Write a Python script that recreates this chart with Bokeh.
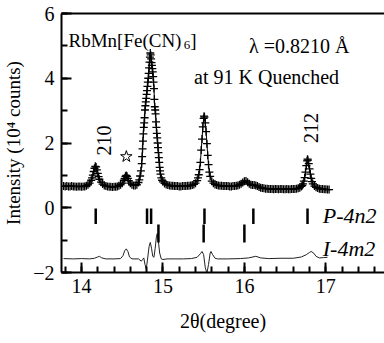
from math import pi
from bokeh.plotting import figure
from bokeh.models import Label, LinearAxis, SingleIntervalTicker, FixedTicker, Range1d
from bokeh.embed import file_html
from bokeh.resources import INLINE

# ---------------- data ----------------
obs_2theta = [
    13.78, 13.80, 13.82, 13.84, 13.86, 13.88, 13.90, 13.92, 13.94, 13.96, 13.98, 14.00, 14.02, 14.04, 14.06,
    14.08, 14.10, 14.12, 14.13, 14.14, 14.15, 14.16, 14.17, 14.18, 14.19, 14.20, 14.21, 14.22, 14.24, 14.26, 14.28, 14.30,
    14.32, 14.34, 14.36, 14.38, 14.40, 14.42, 14.44, 14.46, 14.48, 14.50,
    14.52, 14.53, 14.54, 14.55, 14.56, 14.57, 14.58, 14.60, 14.62, 14.64, 14.66, 14.68, 14.70,
    14.71, 14.72, 14.73, 14.74, 14.745, 14.75, 14.755, 14.76, 14.765, 14.77, 14.775, 14.78, 14.785, 14.79, 14.795,
    14.80, 14.805, 14.81, 14.815, 14.82, 14.825, 14.83, 14.835, 14.84, 14.845,
    14.85, 14.855, 14.86, 14.865, 14.87, 14.875, 14.88, 14.885, 14.89, 14.895, 14.90, 14.905, 14.91, 14.915,
    14.92, 14.925, 14.93, 14.935, 14.94, 14.945, 14.95, 14.955, 14.96, 14.965, 14.97, 14.98, 14.99, 15.00,
    15.02, 15.04, 15.06, 15.08, 15.10, 15.12, 15.14, 15.16, 15.18, 15.20, 15.22, 15.24, 15.26, 15.28, 15.30,
    15.32, 15.34, 15.36, 15.38, 15.40,
    15.42, 15.43, 15.44, 15.45, 15.46, 15.47, 15.48, 15.49, 15.50, 15.505, 15.51, 15.52, 15.53, 15.54, 15.55,
    15.56, 15.57, 15.58,
    15.60, 15.62, 15.64, 15.66, 15.68, 15.70, 15.72, 15.74, 15.76, 15.78, 15.80, 15.82, 15.84, 15.86, 15.88,
    15.90, 15.92, 15.94, 15.96, 15.98,
    16.00, 16.02, 16.04, 16.06, 16.08, 16.10, 16.12, 16.14, 16.16, 16.18, 16.20, 16.22, 16.24, 16.26, 16.28, 16.30,
    16.32, 16.34, 16.36, 16.38, 16.40, 16.42, 16.44, 16.46, 16.48, 16.50, 16.52, 16.54, 16.56, 16.58, 16.60, 16.62,
    16.64, 16.66, 16.68, 16.70, 16.71, 16.72, 16.73, 16.74, 16.75, 16.76, 16.77, 16.775, 16.78, 16.79, 16.80,
    16.81, 16.82, 16.83, 16.84, 16.86, 16.88,
    16.90, 16.92, 16.94, 16.96, 16.98, 17.00, 17.02, 17.04,
]
obs_intensity = [
    0.67, 0.66, 0.67, 0.66, 0.66, 0.67, 0.66, 0.66, 0.65, 0.66, 0.66, 0.65, 0.66, 0.66, 0.68,
    0.71, 0.76, 0.85, 0.92, 1.01, 1.12, 1.22, 1.28, 1.26, 1.17, 1.06, 0.96, 0.88, 0.79, 0.73, 0.69, 0.67,
    0.66, 0.65, 0.65, 0.64, 0.65, 0.65, 0.66, 0.68, 0.71, 0.76,
    0.85, 0.91, 0.97, 1.00, 0.97, 0.91, 0.84, 0.76, 0.71, 0.69, 0.69, 0.71, 0.78,
    0.86, 0.98, 1.14, 1.36, 1.58, 1.82, 2.06, 2.28, 2.48, 2.62, 2.78, 3.02, 3.15, 3.27, 3.38,
    3.50, 3.62, 3.75, 3.88, 4.00, 4.15, 4.32, 4.50, 4.65, 4.78,
    4.72, 4.60, 4.48, 4.40, 4.30, 4.20, 4.05, 3.88, 3.68, 3.35, 3.12, 3.02, 2.90, 2.65,
    2.48, 2.30, 2.16, 2.00, 1.86, 1.70, 1.55, 1.40, 1.25, 1.14, 1.04, 0.92, 0.85, 0.80,
    0.75, 0.72, 0.70, 0.69, 0.68, 0.68, 0.67, 0.67, 0.67, 0.66, 0.66, 0.67, 0.67, 0.67, 0.68,
    0.68, 0.69, 0.70, 0.72, 0.76,
    0.84, 0.92, 1.02, 1.18, 1.40, 1.78, 2.12, 2.50, 2.76, 2.83, 2.80, 2.62, 2.35, 1.98, 1.62,
    1.33, 1.10, 0.97,
    0.82, 0.76, 0.72, 0.70, 0.69, 0.68, 0.68, 0.67, 0.67, 0.67, 0.67, 0.66, 0.66, 0.67, 0.67,
    0.68, 0.69, 0.71, 0.74, 0.78,
    0.82, 0.83, 0.79, 0.74, 0.71, 0.70, 0.70, 0.69, 0.67, 0.64, 0.62, 0.61, 0.60, 0.59, 0.59, 0.58,
    0.58, 0.58, 0.57, 0.58, 0.58, 0.57, 0.58, 0.58, 0.57, 0.57, 0.58, 0.57, 0.57, 0.58, 0.58, 0.58,
    0.59, 0.60, 0.62, 0.66, 0.69, 0.74, 0.82, 0.93, 1.10, 1.30, 1.45, 1.50, 1.47, 1.36, 1.20,
    1.04, 0.91, 0.81, 0.74, 0.67, 0.63,
    0.61, 0.59, 0.58, 0.58, 0.57, 0.57, 0.56, 0.56,
]

diff_2theta = [
    13.78, 13.90, 14.00, 14.10, 14.16, 14.20, 14.22, 14.25, 14.30, 14.40, 14.48, 14.51, 14.53, 14.55,
    14.57, 14.59, 14.62, 14.70, 14.735, 14.75, 14.765, 14.78, 14.795, 14.81, 14.83, 14.845, 14.86,
    14.875, 14.89, 14.905, 14.92, 14.93, 14.945, 14.96, 14.98, 15.00, 15.05, 15.15, 15.25, 15.35,
    15.42, 15.46, 15.48, 15.50, 15.52, 15.54, 15.56, 15.58, 15.59, 15.61, 15.64, 15.67, 15.80, 15.95,
    16.05, 16.14, 16.20, 16.30, 16.45, 16.60, 16.70, 16.76, 16.80, 16.82, 16.85, 16.88, 16.92, 16.97, 17.02,
]
diff_intensity = [
    -1.57, -1.58, -1.57, -1.58, -1.56, -1.52, -1.50, -1.55, -1.58, -1.58, -1.57, -1.48, -1.33, -1.27,
    -1.35, -1.52, -1.58, -1.58, -1.65, -1.60, -1.55, -1.75, -1.89, -1.62, -1.20, -1.07, -1.25,
    -1.50, -1.53, -1.25, -0.90, -0.80, -1.05, -1.40, -1.58, -1.60, -1.58, -1.58, -1.58, -1.57,
    -1.53, -1.42, -1.35, -1.45, -1.85, -2.02, -1.75, -1.40, -1.35, -1.45, -1.56, -1.58, -1.58, -1.57,
    -1.55, -1.50, -1.55, -1.57, -1.56, -1.56, -1.52, -1.45, -1.38, -1.35, -1.40, -1.50, -1.55, -1.54, -1.53,
]

refl_P4n2 = [14.175, 14.805, 14.855, 15.51, 16.11, 16.775]
refl_I4m2 = [14.945, 15.50, 16.00]

x_ticks_interval = 1
y_ticks_interval = 2

SERIF = "Liberation Serif"

# ---------------- figure ----------------
p = figure(width=384, height=343,
           x_range=Range1d(13.755, 17.72), y_range=Range1d(-2, 6),
           output_backend="svg", toolbar_location=None,
           min_border_left=60, min_border_right=0, min_border_top=13, min_border_bottom=71)
p.outline_line_color = None
p.xgrid.visible = False
p.ygrid.visible = False
p.background_fill_color = "white"
p.border_fill_color = "white"

p.xaxis.ticker = SingleIntervalTicker(interval=x_ticks_interval, num_minor_ticks=5)
p.yaxis.ticker = SingleIntervalTicker(interval=y_ticks_interval, num_minor_ticks=2)

for ax in (p.xaxis[0], p.yaxis[0]):
    ax.axis_line_width = 2
    ax.axis_line_color = "black"
    ax.major_tick_line_width = 2
    ax.minor_tick_line_width = 2
    ax.major_tick_line_color = "black"
    ax.minor_tick_line_color = "black"
    ax.major_tick_in = 10
    ax.major_tick_out = 0
    ax.minor_tick_in = 6
    ax.minor_tick_out = 0
    ax.major_label_text_font = SERIF
    ax.major_label_text_font_size = "20px"
    ax.major_label_text_color = "black"

p.xaxis.major_label_standoff = 6
p.yaxis.major_label_standoff = 7
p.yaxis.axis_label = "Intensity (10\u2074 counts)"
p.yaxis.axis_label_text_font = SERIF
p.yaxis.axis_label_text_font_size = "19px"
p.yaxis.axis_label_text_font_style = "normal"
p.yaxis.axis_label_text_color = "black"
p.yaxis.axis_label_standoff = 6

p.xaxis.axis_label = "2\u03b8(degree)"
p.xaxis.axis_label_text_font = SERIF
p.xaxis.axis_label_text_font_size = "20px"
p.xaxis.axis_label_text_font_style = "normal"
p.xaxis.axis_label_text_color = "black"
p.xaxis.axis_label_standoff = 14

top = LinearAxis(ticker=FixedTicker(ticks=[]), axis_line_width=2, axis_line_color="black",
                 major_tick_in=0, major_tick_out=0, minor_tick_in=0, minor_tick_out=0,
                 major_label_standoff=0, axis_label_standoff=0)
p.add_layout(top, "above")

# ---------------- glyphs ----------------
p.line(obs_2theta, obs_intensity, line_color="black", line_width=1)
p.scatter(obs_2theta, obs_intensity, marker="cross", size=8, line_color="black", line_width=1.3)
p.line(diff_2theta, diff_intensity, line_color="#222222", line_width=1)

p.segment(x0=refl_P4n2, y0=[-0.02] * len(refl_P4n2), x1=refl_P4n2, y1=[-0.5] * len(refl_P4n2),
          line_color="black", line_width=2.5)
p.segment(x0=refl_I4m2, y0=[-0.52] * len(refl_I4m2), x1=refl_I4m2, y1=[-1.07] * len(refl_I4m2),
          line_color="black", line_width=2.5)

p.scatter([14.551], [1.58], marker="star", size=12, fill_color="white", line_color="black", line_width=1)


def lab(x, y, text, size="20px", style="normal", angle=0.0, align="left", baseline="alphabetic"):
    p.add_layout(Label(x=x, y=y, text=text, text_font=SERIF, text_font_size=size,
                       text_font_style=style, text_color="black", angle=angle,
                       text_align=align, text_baseline=baseline))


lab(13.841, 5.17, "RbMn[Fe(CN)", size="19px")
lab(15.255, 5.04, "6", size="13px")
lab(15.335, 5.17, "]", size="19px")
lab(16.056, 5.01, "\u03bb =0.8210 \u00c5")
lab(15.383, 4.05, "at 91 K Quenched")
lab(14.282, 2.08, "210", angle=pi / 2, align="center", baseline="middle")
lab(16.815, 2.46, "212", angle=pi / 2, align="center", baseline="middle")
lab(16.962, -0.24, "P-4n2", size="22px", style="italic")
lab(16.962, -1.26, "I-4m2", size="22px", style="italic")

open("out.html", "w").write(file_html(p, INLINE))
